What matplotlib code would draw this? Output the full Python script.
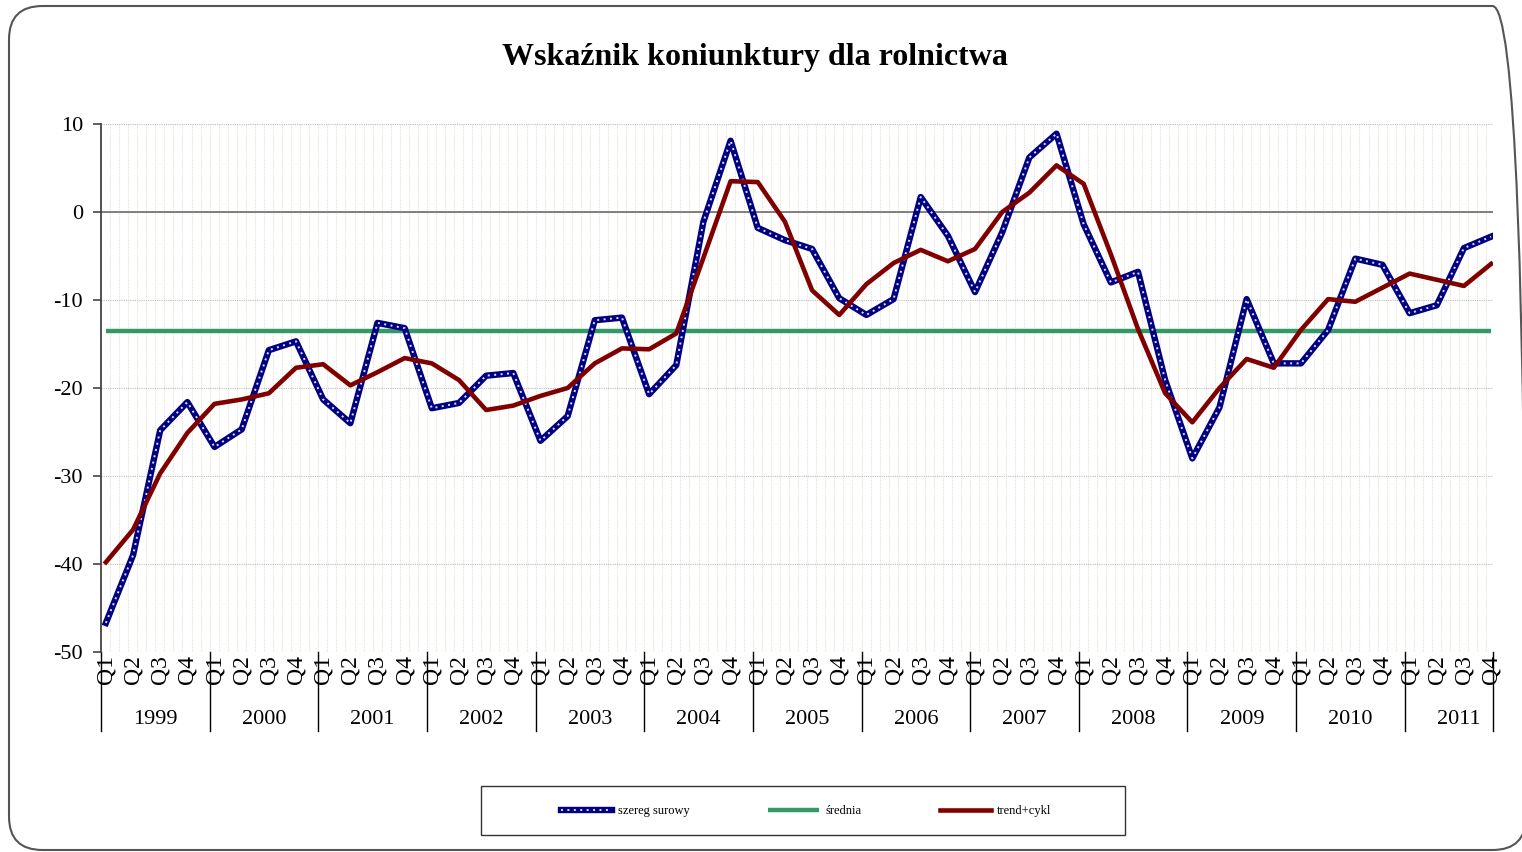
import matplotlib
matplotlib.use("Agg")
import matplotlib.pyplot as plt
import numpy as np
from matplotlib.patches import FancyBboxPatch, Rectangle
from matplotlib.lines import Line2D
from matplotlib.legend_handler import HandlerTuple
import matplotlib.transforms as mtransforms

plt.rcParams['font.family'] = ['Liberation Serif', 'DejaVu Serif']

years = ['1999', '2000', '2001', '2002', '2003', '2004', '2005',
         '2006', '2007', '2008', '2009', '2010', '2011']
quarters = ['Q1', 'Q2', 'Q3', 'Q4']

szereg_surowy = [-46.7, -39.0, -24.8, -21.6,
                 -26.7, -24.7, -15.7, -14.7,
                 -21.3, -24.0, -12.6, -13.2,
                 -22.3, -21.7, -18.6, -18.3,
                 -26.0, -23.2, -12.3, -12.0,
                 -20.7, -17.4, -1.1, 8.1,
                 -1.8, -3.2, -4.2, -9.8,
                 -11.7, -9.9, 1.7, -2.7,
                 -9.1, -2.3, 6.2, 8.9,
                 -1.4, -8.0, -6.8, -19.1,
                 -28.0, -22.2, -9.9, -17.2,
                 -17.2, -13.4, -5.3, -6.0,
                 -11.5, -10.6, -4.1, -2.8]

trend_cykl = [-39.8, -36.1, -29.7, -25.1,
              -21.8, -21.3, -20.6, -17.7,
              -17.3, -19.7, -18.2, -16.6,
              -17.2, -19.1, -22.5, -22.0,
              -20.9, -20.0, -17.2, -15.5,
              -15.6, -13.8, -5.2, 3.5,
              3.4, -1.1, -8.9, -11.7,
              -8.2, -5.8, -4.3, -5.6,
              -4.2, 0.0, 2.2, 5.3,
              3.2, -4.8, -13.3, -20.6,
              -23.9, -20.0, -16.7, -17.7,
              -13.4, -9.9, -10.2, -8.6,
              -7.0, -7.7, -8.4, -5.9]

srednia_value = -13.5

W, H = 1522, 852
fig = plt.figure(figsize=(W / 100, H / 100), dpi=100)

# rounded outer frame
frame = FancyBboxPatch((9 / W, 1 - 850 / H), (1526 - 9) / W, (850 - 6) / H,
                       boxstyle="round,pad=0,rounding_size=0.022",
                       transform=fig.transFigure, facecolor='none',
                       edgecolor='#555555', linewidth=1.5, zorder=0,
                       mutation_aspect=W / H)
fig.patches.append(frame)

ax = fig.add_axes([101 / W, 1 - 652 / H, (1493 - 101) / W, (652 - 124) / H])
ax.set_facecolor('none')

n = len(szereg_surowy)
x = np.arange(n)
ax.set_xlim(-0.18, n - 1 + 0.07)
ax.set_ylim(-50, 10)

# grid
ax.set_yticks(np.arange(-50, 11, 10))
ax.yaxis.grid(True, color='#bdbdbd', linestyle=(0, (1, 1)), linewidth=0.8)
minor_x = np.arange(-0.18, n - 1 + 0.07, 4 / 12)
ax.set_xticks(minor_x, minor=True)
ax.xaxis.grid(True, which='minor', color='#e6e2d2', linestyle=(0, (1, 1)), linewidth=0.8)
ax.set_xticks([])
ax.tick_params(axis='x', which='both', length=0)
ax.set_axisbelow(True)

for s in ['top', 'right', 'bottom']:
    ax.spines[s].set_visible(False)
ax.spines['left'].set_color('#444444')
ax.spines['left'].set_linewidth(1.3)
ax.tick_params(axis='y', direction='out', length=6, width=1.2, color='#444444',
               labelsize=16, pad=7)
ax.set_yticklabels([str(v) for v in range(-50, 11, 10)])

ax.axhline(0, color='#777777', linewidth=1.3, zorder=1)

# series
l_avg, = ax.plot(x, [srednia_value] * n, color='#339966', linewidth=3.2,
                 solid_capstyle='butt', zorder=3)
l_raw, = ax.plot(x, szereg_surowy, color='#000080', linewidth=4.6,
                 solid_joinstyle='round', zorder=4)
l_raw2, = ax.plot(x, szereg_surowy, color='#dfe2f7', linewidth=1.4,
                  linestyle=(0, (1, 2.3)), zorder=5)
l_trend, = ax.plot(x, trend_cykl, color='#800000', linewidth=3.3,
                   solid_joinstyle='round', zorder=6)

# x category labels
trans = mtransforms.blended_transform_factory(ax.transData, fig.transFigure)
for i in range(n):
    ax.text(i, 1 - 655 / H, quarters[i % 4], rotation=90, ha='center', va='top',
            fontsize=17, transform=trans)
for k, yr in enumerate(years):
    ax.text(-0.18 + 4 * k + 2, 1 - 719 / H, yr, ha='center', va='center',
            fontsize=16, transform=trans)
for k in range(len(years) + 1):
    xs = -0.18 + 4 * k
    if k == len(years):
        xs = n - 1 + 0.07
    ax.add_line(Line2D([xs, xs], [1 - 652 / H, 1 - 731 / H], transform=trans,
                       color='black', linewidth=1.0, clip_on=False))

# title
fig.text(755 / W, 1 - 57 / H, 'Wskaźnik koniunktury dla rolnictwa',
         ha='center', va='center', fontsize=23, fontweight='bold')

# legend
fig.patches.append(Rectangle((481 / W, 1 - 835 / H), (1125 - 481) / W, (835 - 786) / H,
                             transform=fig.transFigure, facecolor='none',
                             edgecolor='#333333', linewidth=1.0))
leg = fig.legend([(l_raw, l_raw2), l_avg, l_trend],
                 ['szereg surowy', 'średnia', 'trend+cykl'],
                 handler_map={tuple: HandlerTuple(ndivide=1, pad=0)},
                 loc='center', bbox_to_anchor=(806 / W, 1 - 811 / H),
                 ncol=3, frameon=False, fontsize=9, handlelength=4.1,
                 handletextpad=0.45, columnspacing=6.3)

fig.savefig('out.png', dpi=100)
